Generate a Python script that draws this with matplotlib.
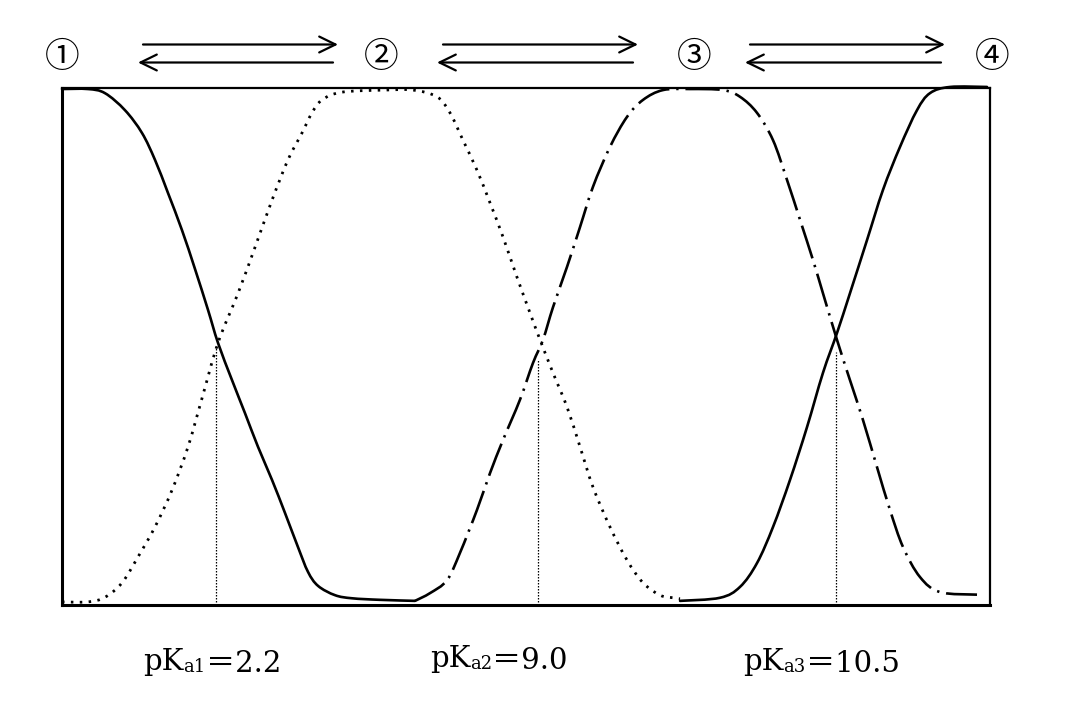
import matplotlib
matplotlib.use("Agg")
import matplotlib.pyplot as plt
from matplotlib.path import Path
from matplotlib.patches import PathPatch, FancyArrowPatch

# ---- data (x: arbitrary pH-like scale 0..100, y: fraction 0..1) ----
species_labels = ["①", "②", "③", "④"]

s1_x = [0, 2.8, 4.63, 6.79, 8.62, 10.02, 11.42, 12.93, 14.33, 15.73, 16.81, 18.32,
        19.72, 21.12, 22.63, 24.03, 25.43, 26.51, 27.59, 29.42, 31.25, 34.27, 38.04]
s1_y = [0.998, 0.998, 0.990, 0.957, 0.913, 0.861, 0.797, 0.725, 0.650, 0.571, 0.507, 0.435,
        0.371, 0.306, 0.242, 0.178, 0.112, 0.064, 0.037, 0.019, 0.013, 0.010, 0.008]

s2_x = [0, 2.8, 4.63, 6.47, 8.19, 10.02, 11.85, 13.58, 15.09, 16.81, 18.97, 20.80, 22.63,
        24.35, 25.86, 26.94, 28.02, 30.17, 34.81, 37.82, 40.41, 41.81, 43.21, 44.72, 46.12,
        47.52, 49.03, 50.43, 51.51, 52.91, 54.42, 55.82, 57.22, 59.05, 60.88, 62.61, 64.44,
        65.84, 66.6]
s2_y = [0.006, 0.006, 0.015, 0.043, 0.093, 0.151, 0.222, 0.306, 0.400, 0.507, 0.603, 0.692,
        0.783, 0.861, 0.913, 0.952, 0.977, 0.992, 0.996, 0.996, 0.983, 0.952, 0.899, 0.841,
        0.778, 0.712, 0.634, 0.565, 0.513, 0.449, 0.383, 0.306, 0.228, 0.151, 0.087, 0.043,
        0.019, 0.014, 0.012]

s3_x = [38.04, 39.66, 41.49, 42.89, 44.72, 46.12, 47.52, 49.35, 50.75, 51.83, 52.91, 54.42,
        55.82, 57.22, 59.05, 60.88, 62.61, 64.76, 67.67, 71.23, 73.06, 74.89, 76.62, 78.13,
        79.53, 80.93, 82.00, 83.51, 84.91, 86.31, 87.82, 89.22, 90.63, 92.46, 94.61, 98.6]
s3_y = [0.008, 0.023, 0.048, 0.101, 0.184, 0.255, 0.319, 0.397, 0.468, 0.513, 0.576, 0.654,
        0.731, 0.809, 0.886, 0.944, 0.977, 0.996, 0.998, 0.996, 0.983, 0.952, 0.899, 0.822,
        0.745, 0.667, 0.603, 0.513, 0.435, 0.358, 0.267, 0.184, 0.112, 0.054, 0.025, 0.020]

s4_x = [66.6, 70.91, 73.06, 74.89, 76.62, 78.45, 80.28, 82.00, 83.51, 84.91, 86.75, 88.47,
        90.30, 92.13, 93.53, 95.69, 99.68]
s4_y = [0.008, 0.014, 0.035, 0.081, 0.151, 0.242, 0.344, 0.449, 0.526, 0.603, 0.706, 0.803,
        0.886, 0.957, 0.990, 1.002, 1.002]

pka_x = [16.6, 51.3, 83.4]
pka_y = [0.50, 0.474, 0.49]
pka_sub = ["a1", "a2", "a3"]
pka_val = ["2.2", "9.0", "10.5"]


def smooth_path(xs, ys):
    """Smooth Bezier path through the data points (Catmull-Rom tangents)."""
    pts = list(zip(xs, ys))
    verts = [pts[0]]
    codes = [Path.MOVETO]
    n = len(pts)
    for i in range(n - 1):
        p0 = pts[i - 1] if i > 0 else pts[i]
        p1 = pts[i]
        p2 = pts[i + 1]
        p3 = pts[i + 2] if i + 2 < n else pts[i + 1]
        c1 = (p1[0] + (p2[0] - p0[0]) / 6, p1[1] + (p2[1] - p0[1]) / 6)
        c2 = (p2[0] - (p3[0] - p1[0]) / 6, p2[1] - (p3[1] - p1[1]) / 6)
        verts += [c1, c2, p2]
        codes += [Path.CURVE4] * 3
    return Path(verts, codes)


# ---- figure ----
fig = plt.figure(figsize=(10.68, 7.10), dpi=100)
ax = fig.add_axes([62 / 1068, 105 / 710, 928 / 1068, 517 / 710])
ax.set_xlim(0, 100)
ax.set_ylim(0, 1)
ax.set_xticks([])
ax.set_yticks([])
for side, lw in [("left", 2.2), ("bottom", 2.2), ("top", 1.6), ("right", 1.6)]:
    ax.spines[side].set_linewidth(lw)
    ax.spines[side].set_color("black")

styles = [
    (s1_x, s1_y, dict(lw=1.9, linestyle="-", capstyle="round", joinstyle="round")),
    (s2_x, s2_y, dict(lw=2.0, linestyle=(0, (0.9, 2.3)), capstyle="butt")),
    (s3_x, s3_y, dict(lw=1.9, linestyle=(0, (13, 2.6, 0.9, 2.6)), capstyle="butt")),
    (s4_x, s4_y, dict(lw=1.9, linestyle="-", capstyle="round", joinstyle="round")),
]
for xs, ys, st in styles:
    patch = PathPatch(smooth_path(xs, ys), fill=False, edgecolor="black",
                      transform=ax.transData, clip_on=False, **st)
    ax.add_patch(patch)

ax.vlines(pka_x, 0, pka_y, colors="black", linewidth=0.9, linestyles=(0, (1.2, 1.2)))

# species labels and equilibrium arrows (figure pixel layout)
W, H = 1068, 710
label_px = [(62, 57), (381, 57), (694, 57), (992, 57)]
for (px, py), lab in zip(label_px, species_labels):
    fig.text(px / W, 1 - py / H, lab, ha="center", va="center", fontsize=25,
             family=["Noto Sans CJK JP", "DejaVu Sans"])

arrows = [((143, 338), (333, 138)), ((443, 638), (633, 437)), ((750, 945), (941, 745))]
for (fx0, fx1), (bx0, bx1) in arrows:
    for x0, x1, yy in [(fx0, fx1, 44.5), (bx0, bx1, 62.5)]:
        fig.add_artist(FancyArrowPatch(
            (x0 / W, 1 - yy / H), (x1 / W, 1 - yy / H), transform=fig.transFigure,
            arrowstyle="->,head_length=0.45,head_width=0.22", mutation_scale=26,
            lw=1.6, color="black", shrinkA=0, shrinkB=0))

# pKa labels
text_px = [(143, 670), (430, 667), (743, 670)]
fam = ["DejaVu Serif", "Noto Sans CJK JP"]
for (px, py), sub, val in zip(text_px, pka_sub, pka_val):
    t1 = fig.text(px / W, 1 - py / H, "pK", fontsize=21, va="baseline", ha="left", family=fam)
    t2 = ax.annotate(sub, xy=(1.0, 0.0), xycoords=t1, va="bottom", ha="left",
                     fontsize=13, family=fam, annotation_clip=False)
    ax.annotate("＝" + val, xy=(1.0, 0.0), xycoords=t2, xytext=(0, -1.5),
                textcoords="offset points", va="bottom", ha="left",
                fontsize=21, family=fam, annotation_clip=False)

fig.savefig("out.png", dpi=100)
